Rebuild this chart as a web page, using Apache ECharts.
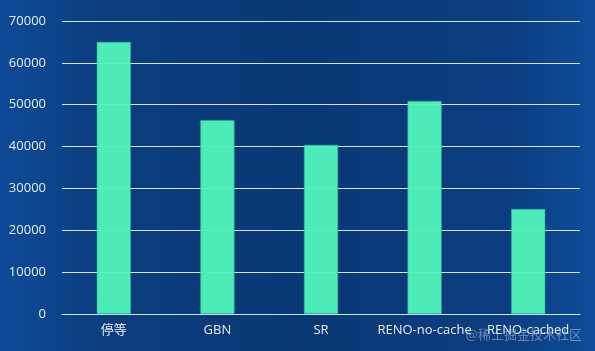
<!DOCTYPE html>
<html>
<head>
<meta charset="utf-8">
<script src="https://cdn.jsdelivr.net/npm/echarts@6/dist/echarts.min.js"></script>
<style>
html,body{margin:0;padding:0;}
#c{width:595px;height:351px;}
</style>
</head>
<body>
<div id="c"></div>
<script>
const categories = ['停等', 'GBN', 'SR', 'RENO-no-cache', 'RENO-cached'];
const values = [65000, 46300, 40400, 50900, 25100];
const yTicks = [0, 10000, 20000, 30000, 40000, 50000, 60000, 70000];

const chart = echarts.init(document.getElementById('c'));
chart.setOption({
  backgroundColor: {
    type: 'linear', x: 0, y: 0, x2: 1, y2: 0,
    colorStops: [
      {offset: 0, color: '#0f4a98'},
      {offset: 0.18, color: '#0b3d7e'},
      {offset: 0.5, color: '#0a3876'},
      {offset: 0.85, color: '#0b3d80'},
      {offset: 1, color: '#0f4c9a'}
    ]
  },
  animation: false,
  grid: {left: 62, right: 15, top: 21, bottom: 37},
  xAxis: {
    type: 'category',
    data: categories,
    axisTick: {show: false},
    axisLine: {lineStyle: {color: '#d4e3f5', width: 1}},
    axisLabel: {interval: 0, color: '#e6eef8', fontSize: 13, margin: 10, fontFamily: 'Open Sans, Noto Sans CJK SC, sans-serif'}
  },
  yAxis: {
    type: 'value',
    min: yTicks[0],
    max: yTicks[yTicks.length - 1],
    interval: 10000,
    axisLine: {show: false},
    axisTick: {show: false},
    splitLine: {lineStyle: {color: '#d4e3f5', width: 1}},
    axisLabel: {color: '#e6eef8', fontSize: 13, margin: 16, fontFamily: 'Open Sans, sans-serif',
      formatter: function (v) { return String(v); }}
  },
  series: [{
    type: 'bar',
    data: values,
    barWidth: '33%',
    itemStyle: {color: '#4ff2ba', opacity: 0.96, borderColor: '#2fae8e', borderWidth: 0.6}
  }],
  graphic: [{
    type: 'text',
    right: 13,
    bottom: 10,
    z: 100,
    style: {text: '@稀土掘金技术社区', fill: 'rgba(200,210,225,0.5)', fontSize: 13, fontFamily: 'Noto Sans CJK SC, sans-serif'}
  }]
});
</script>
</body>
</html>
